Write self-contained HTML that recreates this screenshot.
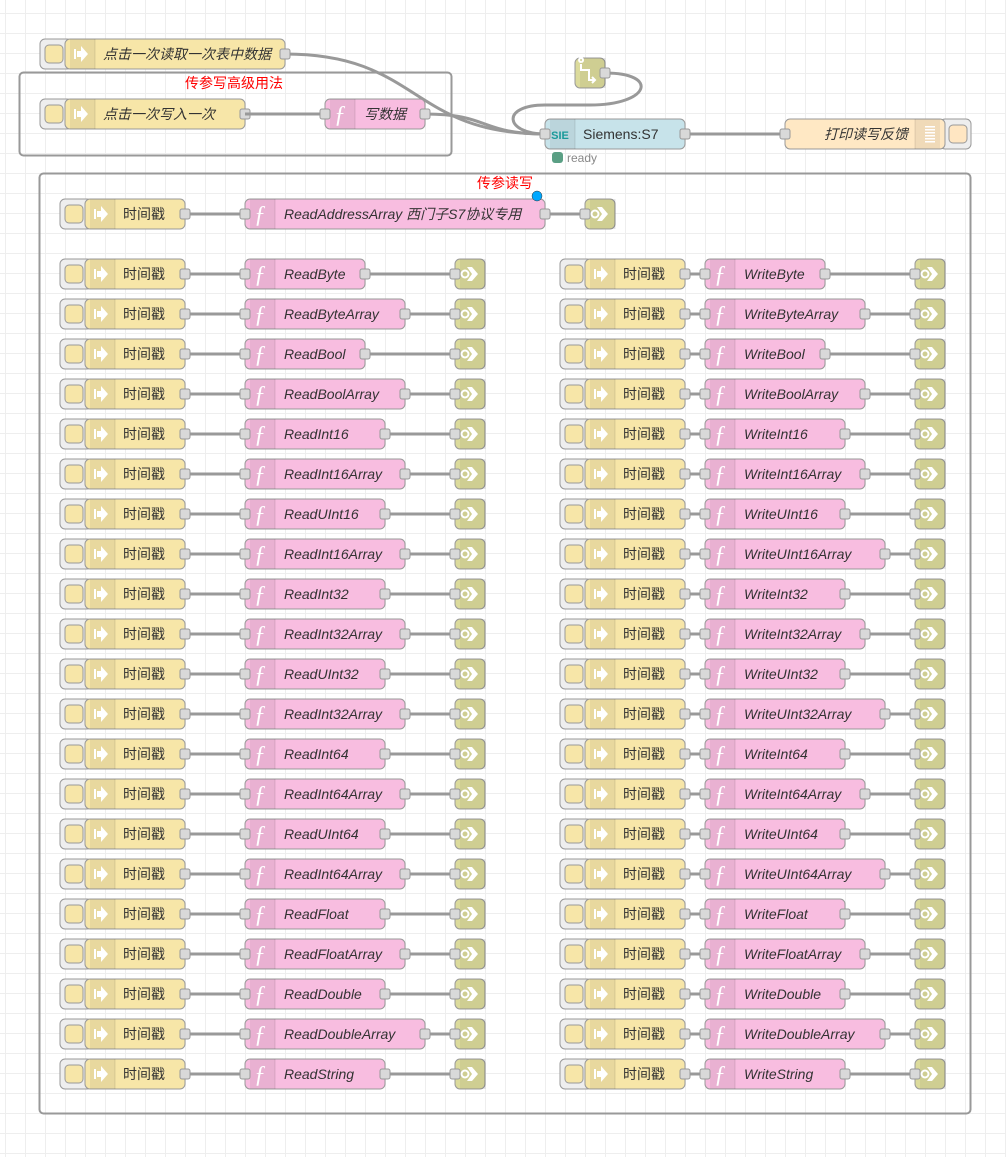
<!DOCTYPE html>
<html><head><meta charset="utf-8">
<style>
html,body{margin:0;padding:0;background:#fff;}
#c{position:absolute;left:0;top:0;width:1006px;height:1157px;
background-color:#fff;
background-image:linear-gradient(#eee 1px,transparent 1px),linear-gradient(90deg,#eee 1px,transparent 1px);
background-size:20px 20px;background-position:5px 13px;}
svg text{font-family:"Liberation Sans","Noto Sans CJK SC",sans-serif;font-size:14px;fill:#333;}
</style></head><body>
<div id="c"></div>
<svg id="s" width="1006" height="1157" style="position:absolute;left:0;top:0" xmlns="http://www.w3.org/2000/svg"></svg>
<script>
var out=[];
var INJ='#f7e6a8',FUN='#f8bde0',LNK='#dcdb9c';
function port(x,y){out.push('<rect x="'+(x-5)+'" y="'+(y-5)+'" width="10" height="10" rx="2" fill="#d9d9d9" stroke="#999" stroke-width="1"/>');}
function wire(d){out.push('<path d="'+d+'" fill="none" stroke="#999" stroke-width="3"/>');}
function body(x,y,w,fill,icon,iconRight){
 var t=y-15;
 out.push('<rect x="'+x+'" y="'+t+'" width="'+w+'" height="30" rx="5" fill="'+fill+'" stroke="#999"/>');
 var ix=iconRight? x+w-30 : x;
 out.push('<path d="M'+(iconRight?ix+30-5:ix+5)+' '+t+' '+(iconRight?'H'+ix+' V'+(t+30)+' H'+(ix+25):'H'+(ix+30)+' V'+(t+30)+' H'+(ix+5))+'" fill="rgba(0,0,0,0.06)"/>');
 out.push('<line x1="'+(iconRight?ix:ix+30)+'" y1="'+t+'" x2="'+(iconRight?ix:ix+30)+'" y2="'+(t+30)+'" stroke="rgba(0,0,0,0.1)"/>');
 if(icon=='inj') out.push('<path d="M'+(ix+9)+' '+(y-5)+' h2 v10 h-2z M'+(ix+12)+' '+(y-3)+' h4 v-5 l7 8 l-7 8 v-5 h-4z" fill="#fff"/>');
 if(icon=='fun') out.push('<text x="'+(ix+15)+'" y="'+(y+8)+'" text-anchor="middle" style="fill:#fff;font-size:24px;font-style:italic;font-family:\'Liberation Serif\',serif">ƒ</text>');
 if(icon=='lnk') out.push('<path d="M'+(ix+12)+' '+(y-7)+' h5 l6 7 l-6 7 h-5 l5 -7z" fill="#fff"/><circle cx="'+(ix+10)+'" cy="'+y+'" r="3.5" fill="none" stroke="#fff" stroke-width="2"/>');
 if(icon=='dbg'){for(var i=0;i<6;i++)out.push('<rect x="'+(ix+10)+'" y="'+(y-8+i*3)+'" width="10" height="1.5" fill="#fff"/>');}
}
function inject(bx,y,w,label,italic,anchor){
 out.push('<rect x="'+bx+'" y="'+(y-15)+'" width="32" height="30" rx="5" fill="#eee" stroke="#999"/>');
 out.push('<rect x="'+(bx+5)+'" y="'+(y-9)+'" width="18" height="18" rx="4" fill="'+INJ+'" stroke="#999"/>');
 var x=bx+25; body(x,y,w,INJ,'inj');
 if(anchor) out.push('<text x="'+(x+30+(w-30)/2-6)+'" y="'+(y+5)+'" text-anchor="middle">'+label+'</text>');
 else out.push('<text x="'+(x+38)+'" y="'+(y+5)+'"'+(italic?' font-style="italic"':'')+'>'+label+'</text>');
 port(x+w,y); return x+w;
}
function func(x,y,w,label){body(x,y,w,FUN,'fun');out.push('<text x="'+(x+39)+'" y="'+(y+5)+'" font-style="italic">'+label+'</text>');port(x,y);port(x+w,y);}
function linkout(x,y){body(x,y,30,LNK,'lnk');port(x,y);}
out.push('<rect x="19.5" y="72.5" width="432" height="83" rx="4" fill="none" stroke="#999" stroke-width="2"/>');
out.push('<text x="234" y="88" text-anchor="middle" style="fill:#f00">传参写高级用法</text>');
out.push('<rect x="39.5" y="173.5" width="931" height="940" rx="4" fill="none" stroke="#999" stroke-width="2"/>');
out.push('<text x="505" y="188" text-anchor="middle" style="fill:#f00">传参读写</text>');
wire('M285 54 C 420 54, 410 134, 545 134');
wire('M425 114 C 490 114, 480 134, 545 134');
wire('M605 73 C 660 73, 650 105, 590 105 L 545 105 C 500 105, 505 134, 545 134');
wire('M685 134 L785 134');
inject(40,54,220,'点击一次读取一次表中数据',true);
inject(40,114,180,'点击一次写入一次',true);
wire('M245 114 L325 114');
func(325,114,100,'写数据');
body(575,73,30,LNK,'');
out.push('<path d="M581 62 a2 2 0 1 1 0.1 0 M581 64 v6 h8 v10 h6 M592 77 l3 3 l-3 3" fill="none" stroke="#fff" stroke-width="2"/>');
port(605,73);
body(545,134,140,'#c7e3ea','');
out.push('<text x="560" y="139" text-anchor="middle" style="fill:#1a9a9a;font-size:11px;font-weight:bold">SIE</text>');
out.push('<text x="583" y="139">Siemens:S7</text>');
port(545,134);port(685,134);
out.push('<rect x="552" y="152" width="11" height="11" rx="3" fill="#5a9f84"/><text x="567" y="162" style="font-size:12px;fill:#888">ready</text>');
out.push('<rect x="940" y="119" width="31" height="30" rx="5" fill="#eee" stroke="#999"/><rect x="949" y="125" width="18" height="18" rx="4" fill="#ffe6c2" stroke="#999"/>');
body(785,134,160,'#ffe8c4','dbg',true);
out.push('<text x="908" y="139" text-anchor="end" font-style="italic">打印读写反馈</text>');
port(785,134);
var y=214;
wire('M185 '+y+' L245 '+y);wire('M545 '+y+' L585 '+y);
inject(60,y,100,'时间戳',false,true);
func(245,y,300,'ReadAddressArray 西门子S7协议专用');
linkout(585,y);
out.push('<circle cx="537" cy="196" r="5" fill="#00a8ff" stroke="#333" stroke-width="0.5"/>');
var R=[['ReadByte',365],['ReadByteArray',405],['ReadBool',365],['ReadBoolArray',405],['ReadInt16',385],['ReadInt16Array',405],['ReadUInt16',385],['ReadInt16Array',405],['ReadInt32',385],['ReadInt32Array',405],['ReadUInt32',385],['ReadInt32Array',405],['ReadInt64',385],['ReadInt64Array',405],['ReadUInt64',385],['ReadInt64Array',405],['ReadFloat',385],['ReadFloatArray',405],['ReadDouble',385],['ReadDoubleArray',425],['ReadString',385]];
var W=[['WriteByte',825],['WriteByteArray',865],['WriteBool',825],['WriteBoolArray',865],['WriteInt16',845],['WriteInt16Array',865],['WriteUInt16',845],['WriteUInt16Array',885],['WriteInt32',845],['WriteInt32Array',865],['WriteUInt32',845],['WriteUInt32Array',885],['WriteInt64',845],['WriteInt64Array',865],['WriteUInt64',845],['WriteUInt64Array',885],['WriteFloat',845],['WriteFloatArray',865],['WriteDouble',845],['WriteDoubleArray',885],['WriteString',845]];
for(var i=0;i<21;i++){
 y=274+i*40;
 wire('M185 '+y+' L245 '+y);wire('M'+R[i][1]+' '+y+' L455 '+y);
 wire('M685 '+y+' L705 '+y);wire('M'+W[i][1]+' '+y+' L915 '+y);
 inject(60,y,100,'时间戳',false,true);
 func(245,y,R[i][1]-245,R[i][0]);
 linkout(455,y);
 inject(560,y,100,'时间戳',false,true);
 func(705,y,W[i][1]-705,W[i][0]);
 linkout(915,y);
}
document.getElementById('s').innerHTML=out.join('');
</script>
</body></html>
